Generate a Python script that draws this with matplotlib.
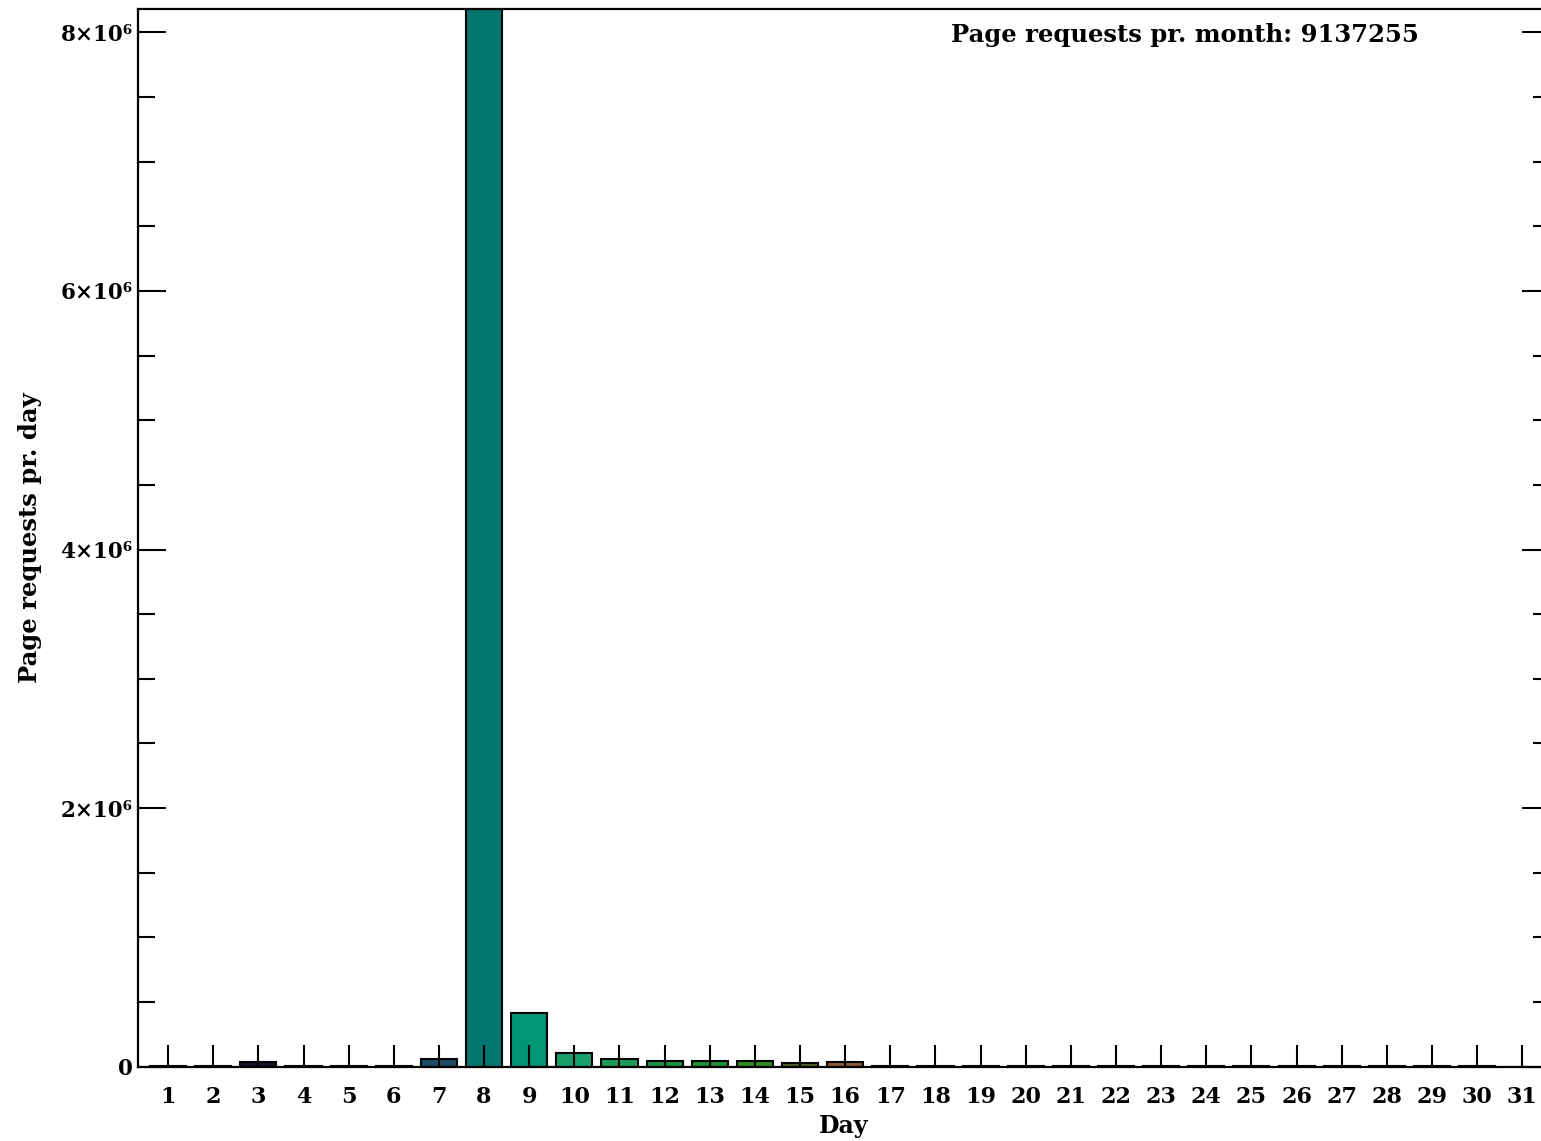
import matplotlib
matplotlib.use("Agg")
from matplotlib import pyplot as plt
from matplotlib.ticker import MultipleLocator, FixedLocator

# Data
days = list(range(1, 32))
requests = [3000, 3000, 36000, 3000, 3000, 3000, 60000, 8206255,
            413000, 108000, 62000, 44000, 44000, 44000, 31000, 33000,
            3000, 3000, 3000, 3000, 3000, 3000, 3000, 3000, 3000,
            3000, 3000, 3000, 3000, 3000, 0]
month_total = 9137255

bar_colors = ["#101018", "#101018", "#10142a", "#101018", "#101018", "#101018",
              "#1d4d68", "#00766f", "#009676", "#17a06a", "#1c9a58", "#1a9242",
              "#1f902e", "#2e8c20", "#4e6422", "#8a5a32", "#202020", "#202020",
              "#202020", "#202020", "#202020", "#202020", "#202020", "#202020",
              "#202020", "#202020", "#202020", "#202020", "#202020", "#202020",
              "#202020"]

ytick_vals = [0, 2e6, 4e6, 6e6, 8e6]
ytick_labels = ["0", "2×10⁶", "4×10⁶", "6×10⁶", "8×10⁶"]

plt.rcParams['font.family'] = ['DejaVu Serif', 'DejaVu Sans']
plt.rcParams['font.weight'] = 'bold'

fig = plt.figure(figsize=(15.41, 11.41), dpi=100)
ax = fig.add_axes([0.0896, 0.0651, 1.006 - 0.0896, 0.9921 - 0.0651])

ax.bar(days, requests, width=0.8, color=bar_colors, edgecolor="black",
       linewidth=1.5, zorder=1)

ax.set_xlim(0.335, 31.62)
ax.set_ylim(0, 8.18e6)

ax.xaxis.set_major_locator(FixedLocator(days))
ax.set_xticklabels([str(d) for d in days])
ax.set_yticks(ytick_vals)
ax.set_yticklabels(ytick_labels)
ax.yaxis.set_minor_locator(MultipleLocator(5e5))

ax.tick_params(axis='x', direction='in', length=16, width=1.5, pad=14,
               labelsize=16, top=False)
ax.tick_params(axis='y', which='major', direction='in', length=20, width=1.5,
               pad=4, labelsize=15.5, right=True)
ax.tick_params(axis='y', which='minor', direction='in', length=12, width=1.5,
               right=True)
for s in ax.spines.values():
    s.set_linewidth(1.6)
    s.set_zorder(3)

ax.set_xlabel("Day", fontsize=17, fontweight='bold', labelpad=4)
ax.set_ylabel("Page requests pr. day", fontsize=17.5, fontweight='bold')
ax.yaxis.set_label_coords(-0.068, 0.5)

ax.text(0.907, 0.975, "Page requests pr. month: %d" % month_total,
        transform=ax.transAxes, ha='right', va='center', fontsize=17.5,
        fontweight='bold')

fig.savefig("out.png", dpi=100)
